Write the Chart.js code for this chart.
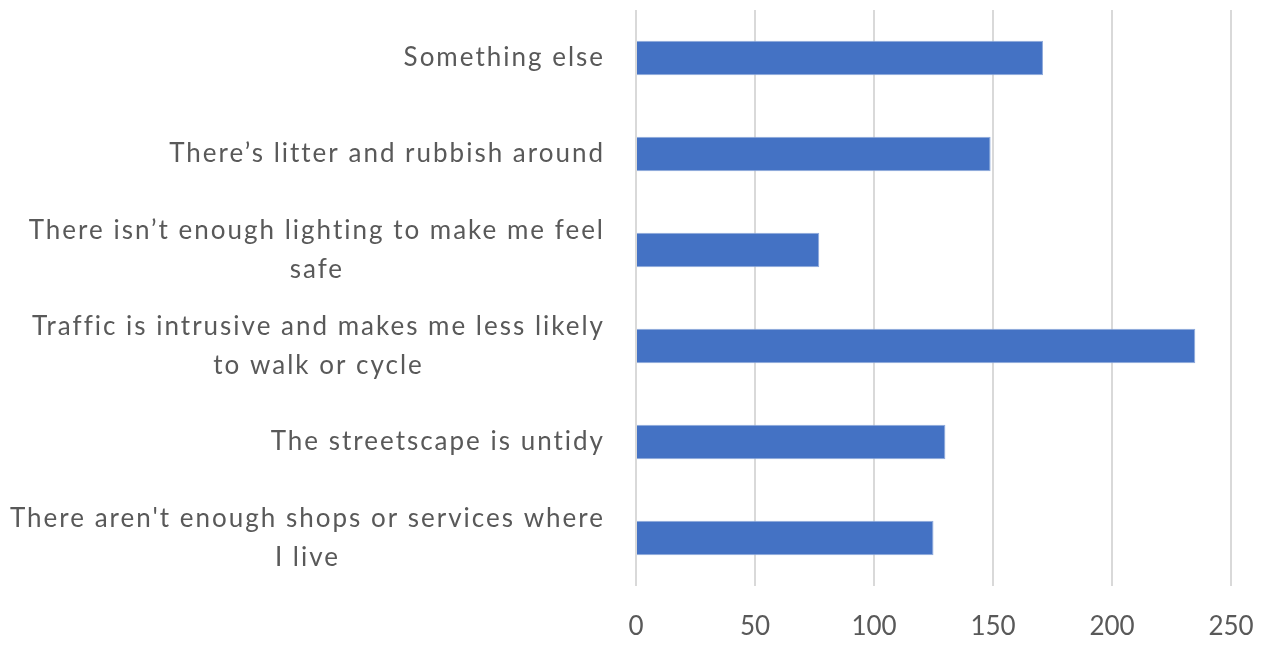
<!DOCTYPE html>
<html>
<head>
<meta charset="utf-8">
<script src="https://cdn.jsdelivr.net/npm/chart.js@4/dist/chart.umd.min.js"></script>
<style>
  body { margin: 0; background: #fff; }
</style>
</head>
<body>
<canvas id="chart" width="1268" height="645"></canvas>
<script>
const categories = [
    ['Something else'],
    ['There’s litter and rubbish around'],
    ['There isn’t enough lighting to make me feel', 'safe'],
    ['Traffic is intrusive and makes me less likely', 'to walk or cycle'],
    ['The streetscape is untidy'],
    ["There aren't enough shops or services where", 'I live']
];
const values = [171, 149, 77, 235, 130, 125];
const xTicks = [0, 50, 100, 150, 200, 250];

const fontFamily = 'Lato, "Open Sans", sans-serif';
const textColor = '#595959';

// draw category labels the way Excel does: block right-aligned, lines centred
const labelPlugin = {
    id: 'catLabels',
    afterDraw(chart) {
        const ctx = chart.ctx;
        const y = chart.scales.y;
        const right = chart.chartArea.left - 31;
        const lineH = 39;
        ctx.save();
        ctx.font = '26px ' + fontFamily;
        ctx.letterSpacing = '2px';
        ctx.fillStyle = textColor;
        ctx.textAlign = 'center';
        ctx.textBaseline = 'middle';
        categories.forEach((lines, i) => {
            const py = y.getPixelForTick(i);
            const maxW = Math.max(...lines.map(l => ctx.measureText(l).width));
            const cx = right - maxW / 2;
            lines.forEach((ln, j) => {
                ctx.fillText(ln, cx, py + (j - (lines.length - 1) / 2) * lineH);
            });
        });
        ctx.restore();
    }
};

new Chart(document.getElementById('chart'), {
    type: 'bar',
    data: {
        labels: categories,
        datasets: [{
            data: values,
            backgroundColor: '#4472C4',
            borderColor: '#8faadc',
            borderWidth: 1,
            categoryPercentage: 1,
            barPercentage: 0.36
        }]
    },
    options: {
        indexAxis: 'y',
        responsive: false,
        animation: false,
        layout: { padding: { top: 10, right: 37, bottom: 0, left: 0 } },
        plugins: { legend: { display: false }, tooltip: { enabled: false } },
        scales: {
            x: {
                min: 0,
                max: 250,
                afterBuildTicks: (scale) => { scale.ticks = xTicks.map(v => ({ value: v })); },
                grid: { color: '#d9d9d9', lineWidth: 2, drawTicks: false },
                border: { display: false },
                ticks: { color: textColor, font: { family: fontFamily, size: 26 }, padding: 25 },
                afterFit: (scale) => {
                    scale.height = 59;
                    scale.paddingRight = 0;
                    scale.paddingLeft = 0;
                }
            },
            y: {
                grid: { display: false },
                border: { display: false },
                ticks: { display: false },
                afterFit: (scale) => { scale.width = 636; }
            }
        }
    },
    plugins: [labelPlugin]
});
</script>
</body>
</html>
